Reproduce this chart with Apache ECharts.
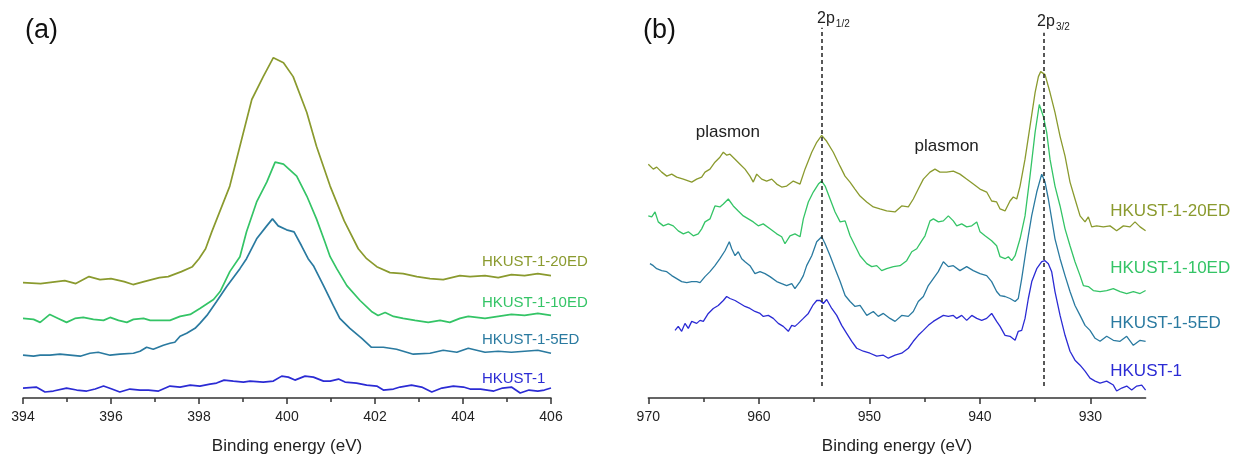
<!DOCTYPE html>
<html><head><meta charset="utf-8">
<script src="https://cdn.jsdelivr.net/npm/echarts@6/dist/echarts.min.js"></script>
<style>html,body{margin:0;padding:0;background:#fff}#c{width:1240px;height:460px}</style>
</head><body><div id="c"></div>
<script>
// ---------- DATA ----------
const seriesNames = ['HKUST-1', 'HKUST-1-5ED', 'HKUST-1-10ED', 'HKUST-1-20ED'];
const seriesColors = ['#2b2bd4', '#2a7aa0', '#34c466', '#8a9a2e'];

// Panel (a): N 1s, [binding energy eV, intensity a.u. (offset)]
const aHK = [[394.0,10],[394.3,11],[394.5,6],[394.69,7],[394.99,10],[395.22,8],[395.45,7],[395.64,9],[395.83,12],[396.02,9],[396.2,6],[396.43,9],[396.66,8],[396.85,8],[397.08,7],[397.34,12],[397.57,11],[397.8,13],[398.02,12],[398.25,14],[398.4,15],[398.57,18],[398.78,17],[399.01,16],[399.16,17],[399.46,16],[399.69,17],[399.88,22],[400.03,21],[400.18,18],[400.41,22],[400.6,21],[400.83,17],[400.98,17],[401.17,19],[401.32,16],[401.58,15],[401.81,13],[402.04,12],[402.19,8],[402.42,9],[402.57,11],[402.83,13],[403.06,11],[403.29,6],[403.52,10],[403.78,12],[404.01,11],[404.16,9],[404.4,9],[404.7,7],[404.9,10],[405.1,11],[405.3,5],[405.5,8],[405.7,7],[405.85,8],[406.0,10]];
const a5 = [[394.0,43],[394.24,42],[394.39,43],[394.61,43],[394.84,44],[395.07,43],[395.3,42],[395.52,45],[395.71,46],[395.98,43],[396.2,44],[396.51,45],[396.66,47],[396.81,51],[396.96,49],[397.19,53],[397.34,55],[397.45,56],[397.57,62],[397.72,65],[397.91,70],[398.02,75],[398.18,83],[398.4,97],[398.63,112],[398.93,130],[399.08,140],[399.31,160],[399.54,173],[399.67,180],[399.8,173],[399.99,169],[400.16,167],[400.33,153],[400.48,140],[400.6,133],[400.83,113],[401.05,93],[401.2,80],[401.43,70],[401.7,60],[401.92,51],[402.19,51],[402.49,49],[402.87,44],[403.25,45],[403.55,48],[403.86,46],[404.12,50],[404.5,46],[404.8,47],[405.1,46],[405.4,47],[405.7,48],[406.0,45]];
const a10 = [[394.0,80],[394.24,79],[394.39,76],[394.61,84],[394.8,80],[394.99,76],[395.18,80],[395.37,81],[395.6,79],[395.83,78],[395.98,81],[396.17,78],[396.36,76],[396.51,79],[396.74,80],[396.89,78],[397.11,78],[397.34,78],[397.57,82],[397.8,84],[398.02,90],[398.33,99],[398.48,107],[398.7,127],[398.93,142],[399.08,167],[399.31,197],[399.54,217],[399.73,237],[399.92,235],[400.22,223],[400.45,203],[400.67,180],[400.86,157],[400.98,142],[401.13,130],[401.36,113],[401.66,98],[401.92,87],[402.07,83],[402.23,86],[402.42,82],[402.64,80],[402.91,78],[403.21,76],[403.48,78],[403.7,76],[403.93,80],[404.12,82],[404.5,80],[404.8,82],[405.1,84],[405.4,83],[405.7,85],[406.0,83]];
const a20 = [[394.0,116],[394.4,115],[394.95,118],[395.2,115],[395.5,122],[395.75,119],[396.0,120],[396.3,117],[396.5,114],[396.75,117],[397.1,121],[397.3,122],[397.6,127],[397.85,132],[398.0,140],[398.15,150],[398.29,167],[398.7,213],[398.97,260],[399.2,300],[399.46,323],[399.69,342],[399.92,337],[400.14,323],[400.45,287],[400.67,253],[400.98,213],[401.3,178],[401.62,150],[401.81,140],[402.04,132],[402.34,126],[402.64,125],[402.95,122],[403.25,120],[403.55,119],[403.93,123],[404.16,122],[404.5,123],[404.8,121],[405.1,124],[405.4,123],[405.7,125],[406.0,123]];

// Panel (b): Cu 2p
const bHK = [[967.58,68],[967.29,72],[966.98,67],[966.68,75],[966.38,70],[966.07,77],[965.62,75],[965.32,78],[965.02,77],[964.57,85],[964.12,90],[963.67,93],[963.21,98],[962.91,102],[962.61,100],[962.15,98],[961.7,95],[961.25,92],[960.8,90],[960.35,87],[959.89,85],[959.59,82],[959.14,83],[958.69,80],[958.24,75],[957.79,72],[957.33,67],[957.02,73],[956.73,72],[956.43,75],[955.97,80],[955.52,85],[955.12,93],[954.76,98],[954.46,98],[954.16,95],[953.86,99],[953.4,90],[952.95,83],[952.5,73],[952.05,65],[951.59,57],[951.14,50],[950.54,47],[949.94,45],[949.33,42],[948.73,43],[948.28,40],[947.67,43],[947.07,45],[946.47,50],[946.02,57],[945.57,63],[945.11,68],[944.66,73],[944.21,77],[943.76,80],[943.3,83],[942.85,82],[942.4,83],[942.09,80],[941.64,83],[941.19,78],[940.73,83],[940.28,80],[939.83,78],[939.38,80],[938.93,85],[938.48,77],[938.17,72],[937.72,63],[937.27,62],[936.81,58],[936.52,67],[936.21,68],[935.91,80],[935.61,100],[935.3,117],[934.85,130],[934.4,137],[934.1,138],[933.8,135],[933.5,127],[933.2,107],[932.74,83],[932.29,63],[931.84,47],[931.39,38],[930.93,33],[930.48,27],[930.03,20],[929.57,17],[929.12,15],[928.52,17],[927.92,13],[927.62,7],[927.16,10],[926.71,12],[926.26,8],[925.8,12],[925.35,13],[925.0,8]];
const b5 = [[969.85,135],[969.55,133],[969.24,130],[968.79,128],[968.33,127],[967.88,123],[967.43,120],[966.98,117],[966.52,116],[966.07,117],[965.62,117],[965.32,116],[964.87,122],[964.42,127],[963.97,133],[963.52,140],[963.06,148],[962.67,157],[962.45,150],[962.15,143],[961.86,147],[961.55,140],[961.25,137],[960.8,133],[960.35,125],[959.89,127],[959.44,125],[958.99,122],[958.38,117],[957.93,115],[957.48,113],[957.02,115],[956.73,110],[956.27,117],[955.97,123],[955.67,133],[955.21,143],[954.76,157],[954.31,162],[954.0,155],[953.55,143],[953.1,130],[952.64,117],[952.19,103],[951.74,97],[951.29,92],[950.84,93],[950.23,83],[949.64,87],[949.19,82],[948.73,85],[948.13,80],[947.67,77],[947.07,83],[946.47,82],[946.02,87],[945.57,97],[945.11,102],[944.66,113],[944.21,120],[943.76,127],[943.3,137],[942.85,132],[942.4,133],[941.8,128],[941.19,132],[940.59,128],[939.99,125],[939.38,123],[938.93,117],[938.48,107],[938.17,103],[937.72,102],[937.27,100],[936.81,97],[936.52,100],[936.21,120],[935.76,153],[935.31,183],[934.85,207],[934.4,225],[934.1,217],[933.8,200],[933.5,180],[933.2,160],[932.74,140],[932.29,123],[931.84,107],[931.39,93],[930.93,83],[930.48,73],[930.03,68],[929.57,60],[929.12,57],[928.52,62],[927.92,58],[927.31,57],[926.71,62],[926.11,53],[925.5,58],[925.0,57]];
const b10 = [[970.0,183],[969.69,182],[969.39,187],[969.1,177],[968.64,173],[968.19,175],[967.74,173],[967.29,168],[966.83,165],[966.38,167],[965.93,163],[965.48,165],[965.17,170],[964.87,177],[964.42,180],[963.97,193],[963.52,192],[963.21,195],[962.76,200],[962.31,193],[961.86,188],[961.4,183],[960.95,180],[960.5,177],[960.05,173],[959.6,175],[958.99,170],[958.38,165],[957.93,162],[957.63,155],[957.18,163],[956.73,165],[956.27,162],[955.97,180],[955.52,197],[955.07,207],[954.61,215],[954.31,218],[954.0,213],[953.55,200],[953.1,187],[952.64,177],[952.19,178],[951.74,163],[951.29,153],[950.84,143],[950.23,135],[949.78,132],[949.33,133],[948.88,128],[948.43,130],[947.82,132],[947.22,133],[946.62,138],[946.16,147],[945.71,150],[945.26,158],[944.96,163],[944.51,178],[944.2,180],[943.75,177],[943.3,178],[942.85,183],[942.4,178],[942.09,173],[941.64,175],[941.19,172],[940.73,173],[940.28,177],[939.98,167],[939.53,163],[938.93,158],[938.48,153],[938.17,142],[937.72,140],[937.42,142],[937.11,138],[936.81,143],[936.36,160],[935.91,183],[935.46,223],[935.0,267],[934.62,295],[934.25,283],[933.95,267],[933.65,240],[933.2,213],[932.74,193],[932.29,170],[931.84,153],[931.39,137],[930.93,123],[930.63,113],[930.18,112],[929.73,108],[929.12,107],[928.52,108],[927.92,110],[927.31,107],[926.71,105],[926.11,107],[925.5,105],[925.0,108]];
const b20 = [[970.0,235],[969.55,230],[969.24,232],[968.79,227],[968.33,223],[967.88,225],[967.43,222],[966.83,220],[966.07,217],[965.62,220],[965.17,222],[964.87,227],[964.42,230],[963.97,237],[963.52,242],[963.21,247],[962.9,244],[962.61,245],[962.15,240],[961.7,235],[961.25,230],[960.8,223],[960.5,217],[960.19,225],[959.74,220],[959.29,218],[958.83,220],[958.38,215],[957.93,212],[957.48,213],[956.88,218],[956.27,215],[955.82,230],[955.21,247],[954.76,257],[954.31,264],[953.86,258],[953.26,247],[952.65,233],[952.2,223],[951.75,217],[951.3,210],[950.84,203],[950.24,197],[949.64,192],[949.04,190],[948.43,188],[947.68,187],[947.07,193],[946.47,192],[946.02,200],[945.57,210],[945.11,220],[944.51,227],[944.06,230],[943.61,227],[943.0,227],[942.4,228],[941.8,225],[941.2,220],[940.59,215],[939.99,210],[939.38,207],[938.93,198],[938.48,197],[938.17,190],[937.72,188],[937.27,198],[936.97,202],[936.66,200],[936.36,213],[935.91,240],[935.46,273],[935.0,307],[934.7,323],[934.49,328],[934.1,325],[933.65,307],[933.2,287],[932.74,263],[932.29,243],[931.84,217],[931.39,200],[930.93,183],[930.48,177],[930.18,182],[929.88,172],[929.43,173],[928.82,172],[928.22,173],[927.62,168],[927.01,173],[926.41,172],[925.96,177],[925.5,172],[925.0,168]];

// axis ticks / annotations
const aTickLabels = [394, 396, 398, 400, 402, 404, 406];
const bTickLabels = [930, 940, 950, 960, 970];
const bMinorTicks = [935, 945, 955, 965];
const peakPositions = [954.3, 934.25];           // 2p1/2, 2p3/2
const peakLabels = ['1/2', '3/2'];
const plasmonPositions = [[962.8, 267], [943.0, 253]];
const xTitle = 'Binding energy (eV)';

// ---------- CHART ----------
const FONT = "'Liberation Sans', Arial, sans-serif";
const chart = echarts.init(document.getElementById('c'), null, {renderer: 'canvas'});

const aSeriesData = [aHK, a5, a10, a20];
const bSeriesData = [bHK, b5, b10, b20];
const aLabelPos = [[404.43, 19], [404.43, 58], [404.43, 96], [404.43, 137]];
const bLabelPos = [[928.2, 27], [928.2, 75], [928.2, 130], [928.2, 188]];

function lbl(coord, text, color, size) {
  return {coord: coord, symbol: 'circle', symbolSize: 0,
    label: {show: true, position: 'right', distance: 0, formatter: text, color: color,
      fontSize: size, fontFamily: FONT}};
}

const series = [];
aSeriesData.forEach((d, i) => {
  series.push({type: 'line', xAxisIndex: 0, yAxisIndex: 0, data: d, showSymbol: false,
    smooth: false, silent: true, animation: false,
    lineStyle: {color: seriesColors[i], width: 1.7}, itemStyle: {color: seriesColors[i]},
    markPoint: {silent: true, animation: false, data: [lbl(aLabelPos[i], seriesNames[i], seriesColors[i], 15)]}});
});
bSeriesData.forEach((d, i) => {
  series.push({type: 'line', xAxisIndex: 1, yAxisIndex: 1, data: d, showSymbol: false,
    silent: true, animation: false,
    lineStyle: {color: seriesColors[i], width: 1.3}, itemStyle: {color: seriesColors[i]},
    markPoint: {silent: true, animation: false, data: [lbl(bLabelPos[i], seriesNames[i], seriesColors[i], 17)]}});
});
const subRich = {a: {fontSize: 16, color: '#222', fontFamily: FONT},
                 b: {fontSize: 10, color: '#222', fontFamily: FONT, padding: [10, 0, 0, 1]}};
// annotations on panel (b)
series.push({type: 'line', xAxisIndex: 1, yAxisIndex: 1, data: [], silent: true, animation: false,
  markLine: {silent: true, animation: false, symbol: ['none', 'none'],
    lineStyle: {color: '#222', width: 1.5, type: [4, 3]}, label: {show: false},
    data: [
      [{coord: [peakPositions[0], 12]}, {coord: [peakPositions[0], 372]}],
      [{coord: [peakPositions[1], 12]}, {coord: [peakPositions[1], 367]}]
    ]},
  markPoint: {silent: true, animation: false, data: [
    {coord: [954.73, 381], symbol: 'circle', symbolSize: 0,
      label: {show: true, position: 'right', distance: 0, formatter: '{a|2p}{b|' + peakLabels[0] + '}', rich: subRich}},
    {coord: [934.82, 378], symbol: 'circle', symbolSize: 0,
      label: {show: true, position: 'right', distance: 0, formatter: '{a|2p}{b|' + peakLabels[1] + '}', rich: subRich}},
    {coord: plasmonPositions[0], symbol: 'circle', symbolSize: 0,
      label: {show: true, position: 'inside', formatter: 'plasmon', color: '#222', fontSize: 17, fontFamily: FONT}},
    {coord: plasmonPositions[1], symbol: 'circle', symbolSize: 0,
      label: {show: true, position: 'inside', formatter: 'plasmon', color: '#222', fontSize: 17, fontFamily: FONT}}
  ]}
});

const axisLine = {show: true, lineStyle: {color: '#333', width: 1.5}};
const axisLabel = {color: '#222', fontSize: 14, fontFamily: FONT, margin: 12};
const nameStyle = {color: '#222', fontSize: 17, fontFamily: FONT};

const option = {
  backgroundColor: '#fff',
  animation: false,
  title: [
    {text: '(a)', left: 20, top: 12, textStyle: {fontSize: 27, fontWeight: 'normal', color: '#111', fontFamily: FONT}},
    {text: '(b)', left: 638, top: 12, textStyle: {fontSize: 27, fontWeight: 'normal', color: '#111', fontFamily: FONT}}
  ],
  grid: [
    {left: 23, right: 689, top: 0, bottom: 60},
    {left: 648.3, right: 94.4, top: 0, bottom: 60}
  ],
  xAxis: [
    {type: 'value', gridIndex: 0, min: 394, max: 406, interval: 2,
      axisLine: axisLine, splitLine: {show: false},
      axisTick: {show: true, inside: false, length: 6, lineStyle: {color: '#333', width: 1.5}},
      minorTick: {show: true, splitNumber: 2, length: 4, lineStyle: {color: '#333', width: 1.5}},
      axisLabel: Object.assign({}, axisLabel, {customValues: aTickLabels}),
      name: xTitle, nameLocation: 'middle', nameGap: 40, nameTextStyle: nameStyle},
    {type: 'value', gridIndex: 1, min: 925, max: 970, inverse: true,
      axisLine: axisLine, splitLine: {show: false},
      axisTick: {show: true, inside: false, length: 6, customValues: bTickLabels, lineStyle: {color: '#333', width: 1.5}},
      axisLabel: Object.assign({}, axisLabel, {customValues: bTickLabels}),
      name: xTitle, nameLocation: 'middle', nameGap: 40, nameTextStyle: nameStyle},
    {type: 'value', gridIndex: 1, min: 925, max: 970, inverse: true, position: 'bottom',
      axisLine: {show: false}, splitLine: {show: false},
      axisTick: {show: true, inside: false, length: 4, customValues: bMinorTicks, lineStyle: {color: '#333', width: 1.5}},
      axisLabel: {show: false}}
  ],
  yAxis: [
    {type: 'value', gridIndex: 0, min: 0, max: 400, show: false},
    {type: 'value', gridIndex: 1, min: 0, max: 400, show: false}
  ],
  series: series
};
chart.setOption(option);
</script>
</body></html>
